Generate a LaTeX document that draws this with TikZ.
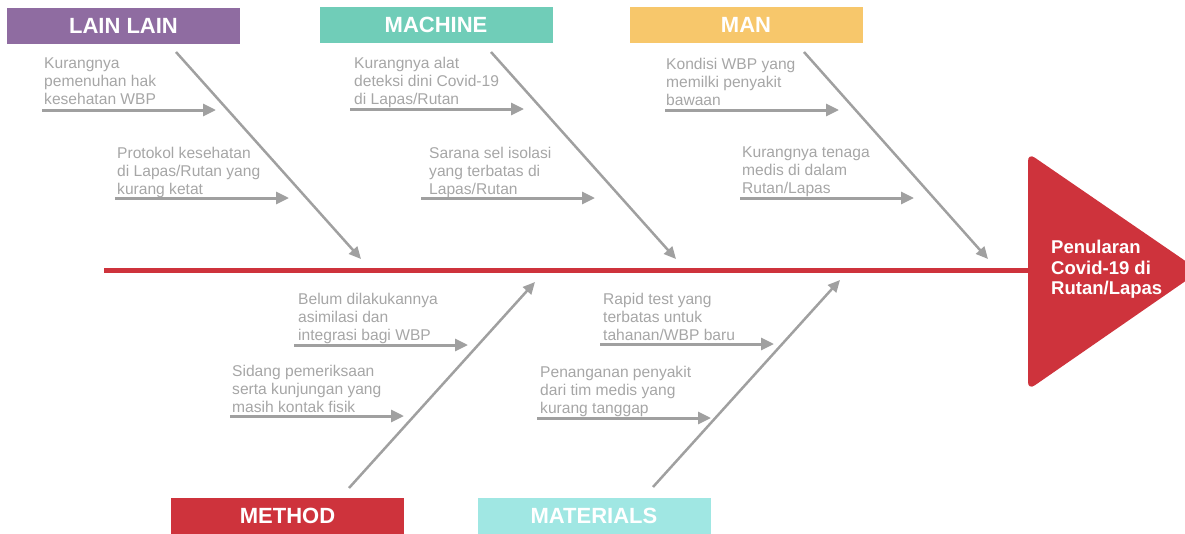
\documentclass[tikz,border=0pt]{standalone}
\usepackage{fontspec}
\setmainfont{Liberation Sans}
\usetikzlibrary{arrows.meta}
\definecolor{cpurple}{RGB}{143,108,161}
\definecolor{cteal}{RGB}{112,205,184}
\definecolor{cyellow}{RGB}{247,199,107}
\definecolor{cred}{RGB}{206,51,60}
\definecolor{ccyan}{RGB}{160,231,227}
\definecolor{cline}{RGB}{160,160,160}
\definecolor{ctext}{RGB}{166,166,166}
\tikzset{
 titlebox/.style={minimum width=233pt, minimum height=36pt, inner sep=0pt, text=white, font=\fontsize{22}{24}\selectfont\bfseries},
 bone/.style={draw=cline, line width=2.5pt, -{Triangle[length=12pt,width=11pt]}},
 subbone/.style={draw=cline, line width=3pt, -{Triangle[length=13pt,width=12pt]}},
 cause/.style={anchor=north west, inner sep=0pt, align=left, text=ctext, font=\fontsize{15.6}{17.8}\selectfont},
 headtext/.style={anchor=north west, inner sep=0pt, align=left, text=white, font=\fontsize{18.5}{20.5}\selectfont\bfseries},
 spine/.style={draw=cred, line width=5pt},
}
\begin{document}
\begin{tikzpicture}[x=1pt,y=-1pt]
\useasboundingbox (0,0) rectangle (1185,533);

% head
\begin{scope}
\clip (0,0) rectangle (1185,533);
\fill[cred, rounded corners=8pt] (1028,271) -- (1028,153) -- (1200,271) -- (1028,390) -- cycle;
\end{scope}
\node[headtext] (head) at (1051,240) {Penularan\\Covid-19 di\\Rutan/Lapas};

% spine
\coordinate (tail) at (104,270);
\coordinate (headleft) at (1030,270);
\draw[spine] (tail) -- (headleft);

% category boxes
\node[titlebox, fill=cpurple] (lain) at (123.5,26) {LAIN LAIN};
\node[titlebox, fill=cteal] (machine) at (436,25) {MACHINE};
\node[titlebox, fill=cyellow] (man) at (746,25) {MAN};
\node[titlebox, fill=cred] (method) at (287.5,516) {METHOD};
\node[titlebox, fill=ccyan] (materials) at (594,516) {MATERIALS};

% main bones
\coordinate (lainS) at (176,52);   \coordinate (lainE) at (361,259);
\coordinate (machS) at (491,52);   \coordinate (machE) at (676,259);
\coordinate (manS) at (804,52);    \coordinate (manE) at (988,259);
\coordinate (methS) at (349,488);  \coordinate (methE) at (535,282);
\coordinate (matS) at (653,487);   \coordinate (matE) at (840,280);
\draw[bone] (lainS) -- (lainE);
\draw[bone] (machS) -- (machE);
\draw[bone] (manS) -- (manE);
\draw[bone] (methS) -- (methE);
\draw[bone] (matS) -- (matE);

% sub-bone coordinates
\coordinate (l1s) at (42,110);  \coordinate (l1e) at (216,110);
\coordinate (l2s) at (115,198); \coordinate (l2e) at (289,198);
\coordinate (c1s) at (350,109); \coordinate (c1e) at (524,109);
\coordinate (c2s) at (421,198); \coordinate (c2e) at (595,198);
\coordinate (m1s) at (665,110); \coordinate (m1e) at (839,110);
\coordinate (m2s) at (740,198); \coordinate (m2e) at (914,198);
\coordinate (t1s) at (294,345); \coordinate (t1e) at (468,345);
\coordinate (t2s) at (230,416); \coordinate (t2e) at (404,416);
\coordinate (a1s) at (600,344); \coordinate (a1e) at (774,344);
\coordinate (a2s) at (537,418); \coordinate (a2e) at (711,418);
\foreach \p in {l1,l2,c1,c2,m1,m2,t1,t2,a1,a2}
  \draw[subbone] (\p s) -- (\p e);

% cause texts
\node[cause] (l1) at (44,58) {Kurangnya\\pemenuhan hak\\kesehatan WBP};
\node[cause] (l2) at (117,147) {Protokol kesehatan\\di Lapas/Rutan yang\\kurang ketat};
\node[cause] (c1) at (354,57) {Kurangnya alat\\deteksi dini Covid-19\\di Lapas/Rutan};
\node[cause] (c2) at (429,147) {Sarana sel isolasi\\yang terbatas di\\Lapas/Rutan};
\node[cause] (m1) at (666,58) {Kondisi WBP yang\\memilki penyakit\\bawaan};
\node[cause] (m2) at (742,147) {Kurangnya tenaga\\medis di dalam\\Rutan/Lapas};
\node[cause] (t1) at (298,293) {Belum dilakukannya\\asimilasi dan\\integrasi bagi WBP};
\node[cause] (t2) at (232,365) {Sidang pemeriksaan\\serta kunjungan yang\\masih kontak fisik};
\node[cause] (a1) at (603,293) {Rapid test yang\\terbatas untuk\\tahanan/WBP baru};
\node[cause] (a2) at (540,366) {Penanganan penyakit\\dari tim medis yang\\kurang tanggap};
\end{tikzpicture}
\end{document}
